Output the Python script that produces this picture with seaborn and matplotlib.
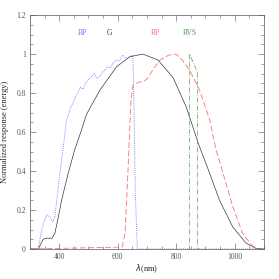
import numpy as np
import pandas as pd
import matplotlib
matplotlib.use('Agg')
import matplotlib.pyplot as plt
import seaborn as sns
from matplotlib.ticker import MultipleLocator

# passband curves (wavelength in nm, normalized response)
g_wl = [300, 328, 345, 360, 375, 385, 395, 408, 431, 453, 476, 493, 539, 596, 641,
        686, 737, 789, 834, 876, 914, 948, 993, 1039, 1073, 1100]
g_resp = [0, 0, 0.05, 0.056, 0.055, 0.08, 0.15, 0.25, 0.39, 0.51, 0.61, 0.69, 0.815,
          0.935, 0.986, 1.0, 0.97, 0.88, 0.73, 0.54, 0.39, 0.25, 0.114, 0.03, 0.003, 0]

bp_wl = [300, 328, 340, 350, 357, 368, 379, 385, 397, 408, 425, 438, 447, 458, 464, 472,
         481, 490, 498, 508, 520, 528, 538, 549, 558, 566, 575, 583, 594, 606, 617, 626,
         634, 645, 652, 656, 660, 667, 680, 1100]
bp_resp = [0, 0, 0.1, 0.15, 0.175, 0.166, 0.14, 0.165, 0.32, 0.456, 0.66, 0.72, 0.75,
           0.79, 0.80, 0.83, 0.82, 0.85, 0.867, 0.88, 0.90, 0.875, 0.885, 0.91, 0.92,
           0.935, 0.93, 0.95, 0.97, 0.965, 0.995, 0.98, 0.98, 0.99, 0.995, 0.7, 0.3,
           0, 0, 0]

rp_wl = [300, 615, 625, 635, 645, 652, 670, 690, 705, 720, 745, 775, 800, 820, 845,
         880, 915, 936, 960, 993, 1027, 1061, 1080, 1100]
rp_resp = [0, 0.01, 0.08, 0.4, 0.75, 0.84, 0.855, 0.86, 0.88, 0.92, 0.97, 0.995, 1.0,
           0.97, 0.92, 0.815, 0.66, 0.51, 0.39, 0.22, 0.08, 0.015, 0, 0]

rvs_wl = [840, 845.5, 846, 860, 872.5, 873, 880]
rvs_resp = [0, 0, 1.0, 0.95, 0.91, 0, 0]

band_names = ['BP', 'G', 'RP', 'RVS']
label_x = [479, 570, 730, 845]
label_y = [1.11, 1.11, 1.11, 1.11]

sns.set_style('ticks')
plt.rcParams['font.family'] = ['Liberation Serif', 'DejaVu Serif']
plt.rcParams['xtick.direction'] = 'in'
plt.rcParams['ytick.direction'] = 'in'

fig = plt.figure(figsize=(2.79, 2.79), dpi=100)
ax = fig.add_axes([0.1075, 0.1075, 0.8385, 0.8385])

blue = '#7474ff'
red = '#ff6e6e'
green = '#4fa34f'
black = '#3a3a3a'

sns.lineplot(x=bp_wl, y=bp_resp, ax=ax, color=blue, lw=0.65, linestyle=(0, (1, 1.3)))
sns.lineplot(x=g_wl, y=g_resp, ax=ax, color=black, lw=0.5)
sns.lineplot(x=rp_wl, y=rp_resp, ax=ax, color=red, lw=0.6, linestyle=(0, (7, 3)))
sns.lineplot(x=rvs_wl, y=rvs_resp, ax=ax, color=green, lw=0.5, linestyle=(0, (7, 2, 1, 2)))

for name, x, y, c in zip(band_names, label_x, label_y, [blue, black, red, green]):
    ax.text(x, y, name, color=c, fontsize=5.5, ha='center', va='center')

ax.set_xlim(300, 1100)
ax.set_ylim(0, 1.2)
ax.xaxis.set_major_locator(MultipleLocator(200))
ax.xaxis.set_minor_locator(MultipleLocator(50))
ax.yaxis.set_minor_locator(MultipleLocator(0.05))
ax.set_yticks([0, 0.2, 0.4, 0.6, 0.8, 1, 1.2])
ax.set_yticklabels(['0', '0.2', '0.4', '0.6', '0.8', '1', '1.2'])
ax.tick_params(which='both', top=True, right=True, labelsize=5.5, width=0.4,
               colors='#555555', pad=3)
ax.tick_params(which='major', length=4)
ax.tick_params(which='minor', length=2)
for s in ax.spines.values():
    s.set_linewidth(0.5)
    s.set_color('#555555')

ax.set_xlabel(r'$\lambda$(nm)', fontsize=6, labelpad=1)
ax.set_ylabel('Normalized response (energy)', fontsize=6, labelpad=5)

fig.savefig('out.png', dpi=100)
